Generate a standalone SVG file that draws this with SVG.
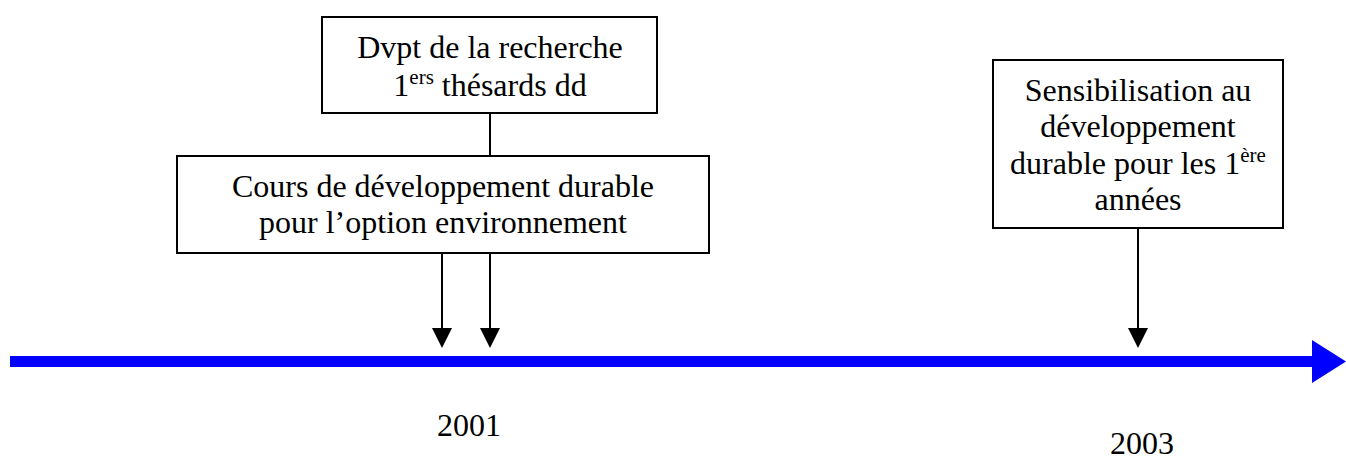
<svg xmlns="http://www.w3.org/2000/svg" width="1346" height="459" viewBox="0 0 1346 459">
  <style>
    .box { fill: #ffffff; stroke: #000000; stroke-width: 2; }
    .lbl { font-family: "Liberation Serif", "Times New Roman", serif; font-size: 32px; fill: #000000; text-anchor: middle; }
    .sup { font-size: 21px; }
    .wire { stroke: #000000; stroke-width: 2; fill: none; }
    .tip { fill: #000000; }
  </style>

  <!-- time axis -->
  <g id="axis">
    <rect x="10" y="356" width="1304" height="11" fill="#0000ff"/>
    <polygon points="1312,340 1346,361.5 1312,383" fill="#0000ff"/>
  </g>

  <!-- connectors -->
  <g id="connectors">
    <line class="wire" x1="490" y1="113" x2="490" y2="156"/>
    <line class="wire" x1="442" y1="253" x2="442" y2="330"/>
    <polygon class="tip" points="432,328 452,328 442,348"/>
    <line class="wire" x1="490" y1="253" x2="490" y2="330"/>
    <polygon class="tip" points="480,328 500,328 490,348"/>
    <line class="wire" x1="1138" y1="228" x2="1138" y2="330"/>
    <polygon class="tip" points="1128,328 1148,328 1138,348"/>
  </g>

  <g id="node-recherche">
    <rect class="box" x="322" y="17" width="335" height="96"/>
    <text class="lbl" x="490" y="58">Dvpt de la recherche</text>
    <text class="lbl" x="490" y="96">1<tspan class="sup" dy="-12">ers</tspan><tspan dy="12"> thésards dd</tspan></text>
  </g>

  <g id="node-cours">
    <rect class="box" x="177" y="156" width="532" height="97"/>
    <text class="lbl" x="443" y="197">Cours de développement durable</text>
    <text class="lbl" x="443" y="233">pour l’option environnement</text>
  </g>

  <g id="node-sensibilisation">
    <rect class="box" x="993" y="60" width="290" height="168"/>
    <text class="lbl" x="1138" y="101">Sensibilisation au</text>
    <text class="lbl" x="1138" y="137">développement</text>
    <text class="lbl" x="1138" y="174">durable pour les 1<tspan class="sup" dy="-12">ère</tspan></text>
    <text class="lbl" x="1138" y="210">années</text>
  </g>

  <g id="dates">
    <text class="lbl" x="469" y="436">2001</text>
    <text class="lbl" x="1142" y="454">2003</text>
  </g>
</svg>
